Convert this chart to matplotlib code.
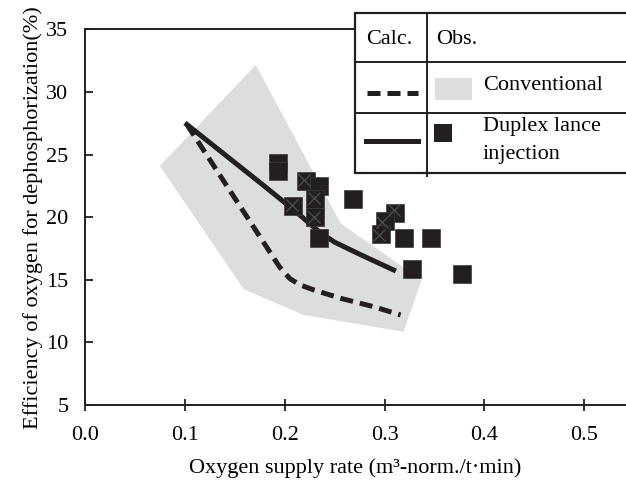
import numpy as np
from matplotlib import pyplot as plt
from matplotlib.patches import Rectangle, Polygon

plt.rcParams['font.family'] = ['Liberation Serif', 'DejaVu Serif']

# Observed band for conventional operation (outline of grey area)
band_x = [0.171, 0.256, 0.337, 0.319, 0.219, 0.159, 0.075]
band_y = [32.16, 19.51, 14.98, 10.85, 12.19, 14.24, 24.09]

# Calculated curves
calc_conv_x = [0.102, 0.195, 0.205, 0.215, 0.229, 0.256, 0.289, 0.316]
calc_conv_y = [27.4, 16.0, 15.1, 14.6, 14.19, 13.52, 12.85, 12.19]
calc_duplex_x = [0.102, 0.176, 0.209, 0.235, 0.25, 0.276, 0.309]
calc_duplex_y = [27.4, 22.71, 20.58, 18.8, 18.0, 17.0, 15.78]

# Observed duplex lance injection
obs_x = [0.193, 0.193, 0.221, 0.234, 0.208, 0.230, 0.230, 0.234, 0.268,
         0.310, 0.300, 0.296, 0.319, 0.346, 0.327, 0.377]
obs_y = [24.31, 23.71, 22.92, 22.48, 20.87, 21.48, 19.98, 18.32, 21.46,
         20.34, 19.72, 18.66, 18.36, 18.36, 15.84, 15.44]

# faint crosses printed over some of the squares
cross_x = [0.219, 0.207, 0.229, 0.229, 0.309, 0.297, 0.294]
cross_y = [22.97, 20.97, 21.51, 20.04, 20.58, 19.64, 18.58]

xticks = [0.0, 0.1, 0.2, 0.3, 0.4, 0.5]
yticks = [5, 10, 15, 20, 25, 30, 35]

dark = '#231f20'
grey = '#dcdddf'
fs = 16

fig = plt.figure(figsize=(6.26, 4.82), dpi=100)
ax = fig.add_axes([85 / 626, 1 - 405 / 482, 1 - 85 / 626, (405 - 29.3) / 482])

ax.add_patch(Polygon(np.column_stack([band_x, band_y]), closed=True,
                     facecolor=grey, edgecolor='none', zorder=1))
ax.plot(calc_conv_x, calc_conv_y, color=dark, lw=3.6, ls=(0, (2.6, 1.4)),
        solid_capstyle='butt', zorder=3)
ax.plot(calc_duplex_x, calc_duplex_y, color=dark, lw=3.6, zorder=3)
ax.plot(obs_x, obs_y, ls='none', marker='s', ms=13.5, color=dark,
        mec='#3a3a3a', mew=0.5, zorder=4)
ax.plot(cross_x, cross_y, ls='none', marker='x', ms=9, color='#4d4d4d',
        mew=0.9, zorder=5)

ax.set_xlim(0.0, (626 - 84.3) / 1000)
ax.set_ylim(5, 35)
ax.set_xticks(xticks)
ax.set_xticklabels(['%.1f' % v for v in xticks])
ax.set_yticks(yticks)
ax.tick_params(axis='x', direction='inout', length=8, width=1.3, pad=11,
               labelsize=fs, color=dark)
ax.tick_params(axis='y', direction='in', length=6, width=1.3, pad=12,
               labelsize=fs, color=dark)
for s in ['left', 'bottom', 'top']:
    ax.spines[s].set_linewidth(1.4)
    ax.spines[s].set_color(dark)
ax.spines['right'].set_visible(False)

ax.set_xlabel('Oxygen supply rate (m\u00b3-norm./t\u00b7min)', fontsize=fs,
              labelpad=10)
ax.set_ylabel('Efficiency of oxygen for dephosphorization(%)', fontsize=fs,
              labelpad=2)

# legend table drawn in pixel coordinates over the plot
lg = fig.add_axes([0, 0, 1, 1], facecolor='none')
lg.set_xlim(0, 626)
lg.set_ylim(482, 0)
lg.axis('off')
lg.add_patch(Rectangle((355, 13), 300, 160, facecolor='white',
                       edgecolor=dark, lw=1.6))
lg.plot([355, 626], [62, 62], color=dark, lw=1.4)
lg.plot([355, 626], [113, 113], color=dark, lw=1.4)
lg.plot([427, 427], [13, 176], color=dark, lw=1.4)
lg.text(366, 40, 'Calc.', fontsize=fs, va='center', ha='left')
lg.text(436, 40, 'Obs.', fontsize=fs, va='center', ha='left')
lg.plot([367, 418], [93, 93], color=dark, lw=3.6, ls=(0, (2.6, 1.4)),
        solid_capstyle='butt')
lg.add_patch(Rectangle((435, 78), 37, 22, facecolor=grey, edgecolor='none'))
lg.text(483, 86, 'Conventional', fontsize=fs, va='center', ha='left')
lg.plot([366, 418], [141, 141], color=dark, lw=3.6)
lg.add_patch(Rectangle((434, 124), 18, 18, facecolor=dark, edgecolor='none'))
lg.text(483, 127, 'Duplex lance', fontsize=fs, va='center', ha='left')
lg.text(483, 154, 'injection', fontsize=fs, va='center', ha='left')

fig.savefig('out.png', dpi=100)
